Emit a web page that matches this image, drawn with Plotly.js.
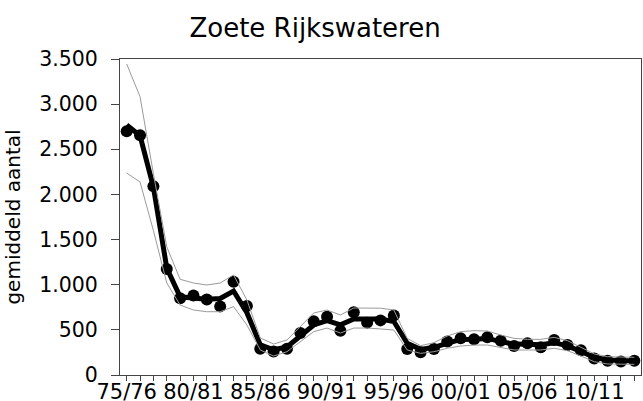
<!DOCTYPE html>
<html>
<head>
<meta charset="utf-8">
<script src="https://cdn.plot.ly/plotly-3.0.1.min.js"></script>
<style>html,body{margin:0;padding:0;background:#fff;}#chart{width:643px;height:401px;}</style>
</head>
<body>
<div id="chart"></div>
<script>
var seasons = ["75/76","76/77","77/78","78/79","79/80","80/81","81/82","82/83","83/84","84/85",
  "85/86","86/87","87/88","88/89","89/90","90/91","91/92","92/93","93/94","94/95",
  "95/96","96/97","97/98","98/99","99/00","00/01","01/02","02/03","03/04","04/05",
  "05/06","06/07","07/08","08/09","09/10","10/11","11/12","12/13","13/14"];
var labelledSeasons = ["75/76","80/81","85/86","90/91","95/96","00/01","05/06","10/11"];

var observed = [2700,2655,2090,1175,850,880,835,760,1032,764,
  290,260,292,465,595,645,490,695,580,605,
  660,288,252,288,370,408,397,419,380,321,
  352,308,388,332,275,183,157,150,157];
var trend = [2770,2650,2082,1185,866,856,840,848,930,690,
  335,280,312,432,554,602,556,620,626,620,
  592,352,284,307,350,394,397,405,370,342,
  340,334,358,322,260,196,166,155,155];
var upper = [3445,3083,2230,1420,1060,1019,997,1019,1108,831,
  410,343,388,535,687,720,665,742,745,740,
  720,406,325,358,432,480,491,487,443,406,
  395,395,417,380,307,233,203,196,196];
var lower = [2237,2138,1600,1020,775,720,701,701,757,554,
  277,210,258,369,480,520,465,520,520,510,
  498,277,240,258,296,321,332,332,307,277,
  277,277,296,269,210,147,122,118,118];

var idx = seasons.map(function(s,i){return i;});
var tickText = seasons.map(function(s){return labelledSeasons.indexOf(s) >= 0 ? s : "";});

var data = [
  {x: idx, y: observed, type: 'scatter', mode: 'markers', marker: {color: '#000', size: 12}, hoverinfo: 'skip'},
  {x: idx, y: trend, type: 'scatter', mode: 'lines', line: {color: '#000', width: 5}, hoverinfo: 'skip'},
  {x: idx, y: upper, type: 'scatter', mode: 'lines', line: {color: '#9a9a9a', width: 1}, hoverinfo: 'skip'},
  {x: idx, y: lower, type: 'scatter', mode: 'lines', line: {color: '#9a9a9a', width: 1}, hoverinfo: 'skip'}
];

var font = "DejaVu Sans, Verdana, sans-serif";
var layout = {
  width: 643, height: 401,
  margin: {l: 120, r: 2, t: 59, b: 26},
  showlegend: false,
  separators: ",.",
  paper_bgcolor: '#fff', plot_bgcolor: '#fff',
  font: {family: font, color: '#000'},
  title: {text: "Zoete Rijkswateren", font: {family: font, size: 26, color: '#000'},
          x: 0.49, xanchor: 'center', y: 0.93, yanchor: 'middle', yref: 'container'},
  xaxis: {
    range: [-0.5, 38.5], tickmode: 'array', tickvals: idx, ticktext: tickText,
    ticks: 'outside', ticklen: 5, tickcolor: '#444', tickwidth: 1,
    showline: true, linecolor: '#444', linewidth: 1, mirror: true,
    showgrid: false, zeroline: false, tickfont: {family: font, size: 21, color: '#000'},
    ticklabelstandoff: -7
  },
  yaxis: {
    range: [0, 3500], dtick: 500, tick0: 0, tickformat: ",d",
    ticks: 'outside', ticklen: 8, tickcolor: '#444', tickwidth: 1,
    showline: true, linecolor: '#444', linewidth: 1, mirror: true,
    showgrid: false, zeroline: false, tickfont: {family: font, size: 20.5, color: '#000'},
    ticklabelstandoff: 9,
    title: {text: "gemiddeld aantal", font: {family: font, size: 20, color: '#000'}, standoff: 13}
  }
};
Plotly.newPlot('chart', data, layout, {displayModeBar: false, staticPlot: true});
</script>
</body>
</html>
